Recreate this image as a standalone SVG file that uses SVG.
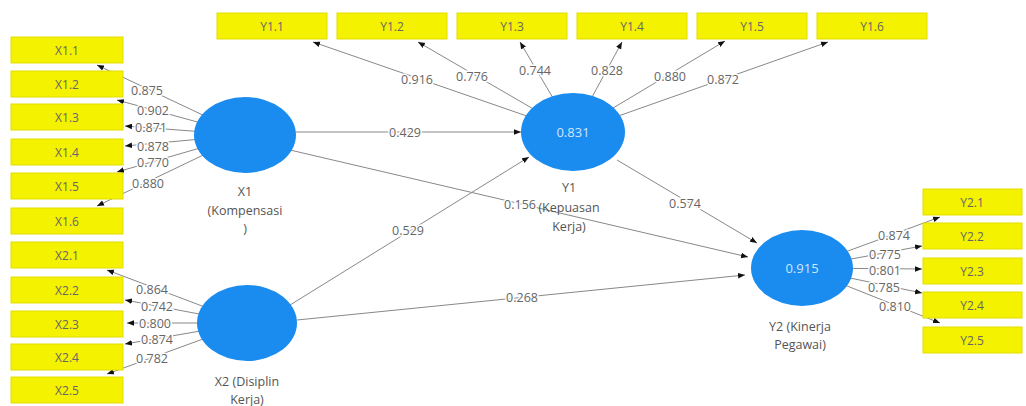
<svg xmlns="http://www.w3.org/2000/svg" width="1026" height="406" viewBox="0 0 1026 406">
<style>
.box{fill:#f5f200;stroke:#e0dd00;stroke-width:1}
.bt{font-family:"Open Sans","Noto Sans",sans-serif;font-size:12px;fill:#666;text-anchor:middle;dominant-baseline:central}
.lv{fill:#1a8cf0}
.lt{font-family:"Open Sans","Noto Sans",sans-serif;font-size:12.5px;fill:#555;text-anchor:middle}
.r2{font-family:"Open Sans","Noto Sans",sans-serif;font-size:13px;fill:#cfe6ff;text-anchor:middle;dominant-baseline:central}
.ln{stroke:#888;stroke-width:1;fill:none;marker-end:url(#a)}
.cl{font-family:"Open Sans","Noto Sans",sans-serif;font-size:12.5px;fill:#666;text-anchor:middle;dominant-baseline:central;paint-order:stroke;stroke:#fff;stroke-width:3px}
</style>
<defs>
<marker id="a" viewBox="0 0 10 10" refX="10" refY="5" markerWidth="7" markerHeight="7" orient="auto" markerUnits="userSpaceOnUse"><path d="M0,1 L10,5 L0,9 z" fill="#111"/></marker>
</defs>
<rect width="1026" height="406" fill="#fff"/>
<g id="connectors">
<line class="ln" x1="245" y1="135" x2="97" y2="65"/>
<line class="ln" x1="245" y1="135" x2="117" y2="100"/>
<line class="ln" x1="245" y1="135" x2="125" y2="126"/>
<line class="ln" x1="245" y1="135" x2="125" y2="146"/>
<line class="ln" x1="245" y1="135" x2="117" y2="172"/>
<line class="ln" x1="245" y1="135" x2="97" y2="206"/>
<line class="ln" x1="247" y1="323" x2="107" y2="270"/>
<line class="ln" x1="247" y1="323" x2="125" y2="300"/>
<line class="ln" x1="247" y1="323" x2="127" y2="323"/>
<line class="ln" x1="247" y1="323" x2="125" y2="344"/>
<line class="ln" x1="247" y1="323" x2="107" y2="374"/>
<line class="ln" x1="573" y1="132" x2="313" y2="42"/>
<line class="ln" x1="573" y1="132" x2="418" y2="42"/>
<line class="ln" x1="573" y1="132" x2="520" y2="42"/>
<line class="ln" x1="573" y1="132" x2="622" y2="42"/>
<line class="ln" x1="573" y1="132" x2="725" y2="41"/>
<line class="ln" x1="573" y1="132" x2="828" y2="42"/>
<line class="ln" x1="802" y1="268" x2="940" y2="217"/>
<line class="ln" x1="802" y1="268" x2="922" y2="246"/>
<line class="ln" x1="802" y1="268" x2="922" y2="269"/>
<line class="ln" x1="802" y1="268" x2="922" y2="293"/>
<line class="ln" x1="802" y1="268" x2="940" y2="323"/>
<line class="ln" x1="296" y1="132" x2="521" y2="132"/>
<line class="ln" x1="290" y1="150" x2="748" y2="257"/>
<line class="ln" x1="290" y1="305" x2="529" y2="157"/>
<line class="ln" x1="297" y1="320" x2="745" y2="275"/>
<line class="ln" x1="617" y1="160" x2="757" y2="243"/>
</g>
<g id="X1">
<ellipse class="lv" cx="245" cy="135" rx="51" ry="38"/>
<text class="lt" x="245" y="196">X1</text>
<text class="lt" x="245" y="215">(Kompensasi</text>
<text class="lt" x="245" y="233">)</text>
</g>
<g id="X2">
<ellipse class="lv" cx="247" cy="323" rx="50" ry="38"/>
<text class="lt" x="247" y="386">X2 (Disiplin</text>
<text class="lt" x="247" y="404">Kerja)</text>
</g>
<g id="Y1">
<ellipse class="lv" cx="573" cy="132" rx="52" ry="39"/>
<text class="r2" x="573" y="132">0.831</text>
<text class="lt" x="569" y="192">Y1</text>
<text class="lt" x="569" y="212">(Kepuasan</text>
<text class="lt" x="569" y="231">Kerja)</text>
</g>
<g id="Y2">
<ellipse class="lv" cx="802" cy="268" rx="51" ry="38"/>
<text class="r2" x="802" y="268">0.915</text>
<text class="lt" x="800" y="331">Y2 (Kinerja</text>
<text class="lt" x="800" y="349">Pegawai)</text>
</g>
<g id="X1-indicators">
<g id="X1.1"><rect class="box" x="11" y="37" width="112" height="26"/><text class="bt" x="67" y="50">X1.1</text></g>
<g id="X1.2"><rect class="box" x="11" y="71" width="112" height="26"/><text class="bt" x="67" y="84">X1.2</text></g>
<g id="X1.3"><rect class="box" x="11" y="104" width="112" height="26"/><text class="bt" x="67" y="117">X1.3</text></g>
<g id="X1.4"><rect class="box" x="11" y="139" width="112" height="26"/><text class="bt" x="67" y="152">X1.4</text></g>
<g id="X1.5"><rect class="box" x="11" y="173" width="112" height="26"/><text class="bt" x="67" y="186">X1.5</text></g>
<g id="X1.6"><rect class="box" x="11" y="208" width="112" height="26"/><text class="bt" x="67" y="221">X1.6</text></g>
</g>
<g id="X2-indicators">
<g id="X2.1"><rect class="box" x="11" y="242" width="112" height="26"/><text class="bt" x="67" y="255">X2.1</text></g>
<g id="X2.2"><rect class="box" x="11" y="277" width="112" height="26"/><text class="bt" x="67" y="290">X2.2</text></g>
<g id="X2.3"><rect class="box" x="11" y="311" width="112" height="26"/><text class="bt" x="67" y="324">X2.3</text></g>
<g id="X2.4"><rect class="box" x="11" y="344" width="112" height="26"/><text class="bt" x="67" y="357">X2.4</text></g>
<g id="X2.5"><rect class="box" x="11" y="377" width="112" height="26"/><text class="bt" x="67" y="390">X2.5</text></g>
</g>
<g id="Y1-indicators">
<g id="Y1.1"><rect class="box" x="217" y="13" width="110" height="26"/><text class="bt" x="272" y="26">Y1.1</text></g>
<g id="Y1.2"><rect class="box" x="337" y="13" width="110" height="26"/><text class="bt" x="392" y="26">Y1.2</text></g>
<g id="Y1.3"><rect class="box" x="457" y="13" width="110" height="26"/><text class="bt" x="512" y="26">Y1.3</text></g>
<g id="Y1.4"><rect class="box" x="577" y="13" width="110" height="26"/><text class="bt" x="632" y="26">Y1.4</text></g>
<g id="Y1.5"><rect class="box" x="697" y="13" width="110" height="26"/><text class="bt" x="752" y="26">Y1.5</text></g>
<g id="Y1.6"><rect class="box" x="817" y="13" width="110" height="26"/><text class="bt" x="872" y="26">Y1.6</text></g>
</g>
<g id="Y2-indicators">
<g id="Y2.1"><rect class="box" x="923" y="189" width="99" height="26"/><text class="bt" x="972" y="202">Y2.1</text></g>
<g id="Y2.2"><rect class="box" x="923" y="223" width="99" height="26"/><text class="bt" x="972" y="236">Y2.2</text></g>
<g id="Y2.3"><rect class="box" x="923" y="258" width="99" height="26"/><text class="bt" x="972" y="271">Y2.3</text></g>
<g id="Y2.4"><rect class="box" x="923" y="292" width="99" height="26"/><text class="bt" x="972" y="305">Y2.4</text></g>
<g id="Y2.5"><rect class="box" x="923" y="327" width="99" height="26"/><text class="bt" x="972" y="340">Y2.5</text></g>
</g>
<g id="connector-labels">
<text class="cl" x="147" y="90">0.875</text>
<text class="cl" x="153" y="110">0.902</text>
<text class="cl" x="151" y="127">0.871</text>
<text class="cl" x="153" y="146">0.878</text>
<text class="cl" x="153" y="162">0.770</text>
<text class="cl" x="148" y="183">0.880</text>
<text class="cl" x="152" y="289">0.864</text>
<text class="cl" x="157" y="306">0.742</text>
<text class="cl" x="155" y="323">0.800</text>
<text class="cl" x="157" y="339">0.874</text>
<text class="cl" x="152" y="358">0.782</text>
<text class="cl" x="417" y="79">0.916</text>
<text class="cl" x="472" y="76">0.776</text>
<text class="cl" x="535" y="70">0.744</text>
<text class="cl" x="607" y="70">0.828</text>
<text class="cl" x="670" y="76">0.880</text>
<text class="cl" x="723" y="79">0.872</text>
<text class="cl" x="894" y="235">0.874</text>
<text class="cl" x="885" y="254">0.775</text>
<text class="cl" x="885" y="270.5">0.801</text>
<text class="cl" x="884" y="287">0.785</text>
<text class="cl" x="895" y="306">0.810</text>
<text class="cl" x="405" y="132">0.429</text>
<text class="cl" x="520" y="204">0.156</text>
<text class="cl" x="408" y="230">0.529</text>
<text class="cl" x="522" y="297">0.268</text>
<text class="cl" x="685" y="203">0.574</text>
</g>
</svg>
